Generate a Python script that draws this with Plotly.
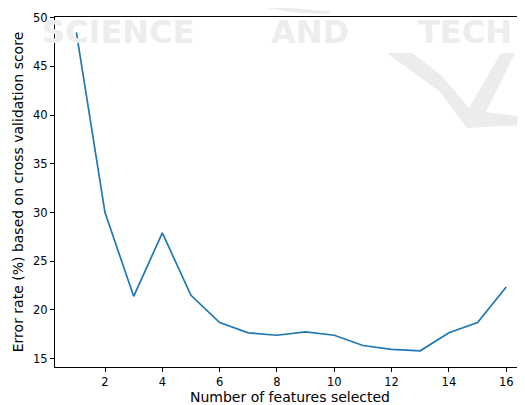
import plotly.graph_objects as go

# Data
n_features = list(range(1, 17))
error_rate = [48.5, 30.0, 21.4, 27.9, 21.5, 18.7, 17.65, 17.4, 17.75, 17.4,
              16.35, 15.95, 15.8, 17.65, 18.7, 22.35]
y_ticks = [15, 20, 25, 30, 35, 40, 45, 50]
x_ticks = [2, 4, 6, 8, 10, 12, 14, 16]

# the page body has an 8px default margin, so the figure is 8px smaller
OFF = 8
W, H = 525 - OFF, 405 - OFF
L, R, T, B = 55 - OFF, 0, 17 - OFF, 38
PW, PH = W - L - R, H - T - B


def px(x, y):
    # window pixel -> paper coordinates
    return (x - OFF - L) / PW, (H - B - (y - OFF)) / PH


def path(points):
    pts = [px(x, y) for x, y in points]
    return "M " + " L ".join(f"{a:.4f},{b:.4f}" for a, b in pts) + " Z"


WM = "#ececec"
fig = go.Figure()
fig.add_trace(go.Scatter(x=n_features, y=error_rate, mode="lines",
                         line=dict(color="#1f77b4", width=1.7),
                         hoverinfo="skip", showlegend=False))

shapes = [
    dict(type="path", xref="paper", yref="paper", layer="below", line_width=0, fillcolor=WM,
         path=path([(387, 53), (412, 53), (440, 74), (469, 108), (501, 53), (515, 53),
                    (486, 112), (525, 117), (525, 125), (467, 128), (440, 92)])),
    dict(type="path", xref="paper", yref="paper", layer="below", line_width=0, fillcolor=WM,
         path=path([(266, 8), (292, 8), (312, 10), (330, 11), (330, 14), (300, 13)])),
]

annotations = []
for word, cx in [("SCIENCE", 118), ("AND", 310), ("TECH", 465)]:
    ax, ay = px(cx, 31.5)
    annotations.append(dict(text="<b>" + word + "</b>", x=ax, y=ay, xref="paper", yref="paper",
                            showarrow=False, xanchor="center", yanchor="middle",
                            font=dict(family="DejaVu Sans", size=32, color="#ededed")))

fig.update_layout(
    width=W, height=H, autosize=False,
    margin=dict(l=L, r=R, t=T, b=B, pad=0),
    paper_bgcolor="white", plot_bgcolor="rgba(0,0,0,0)",
    font=dict(family="DejaVu Sans", size=11.5, color="black"),
    shapes=shapes, annotations=annotations,
)
fig.update_xaxes(range=[0.255, 16.655], tickvals=x_ticks, ticks="outside", ticklen=4,
                 tickcolor="black", showline=True, linecolor="black", linewidth=1,
                 mirror=True, showgrid=False, zeroline=False, automargin=False,
                 title=dict(text="Number of features selected", standoff=7))
fig.update_yaxes(range=[14.14, 50.07], tickvals=y_ticks, ticks="outside", ticklen=4,
                 tickcolor="black", showline=True, linecolor="black", linewidth=1,
                 mirror=False, showgrid=False, zeroline=False, automargin=False,
                 title=dict(text="Error rate (%) based on cross validation score", standoff=6))

fig.write_html("out.html")
